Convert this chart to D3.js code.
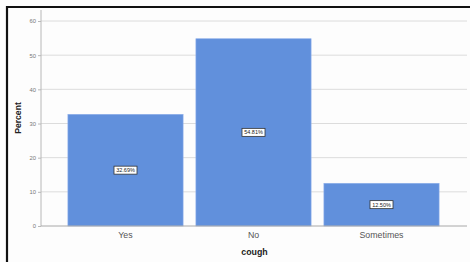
<!DOCTYPE html>
<html>
<head>
<meta charset="utf-8">
<script src="https://cdn.jsdelivr.net/npm/d3@7"></script>
<style>
  body { margin: 0; background: #ffffff; }
  svg { display: block; font-family: Arial, "Liberation Sans", sans-serif; }
</style>
</head>
<body>
<div id="chart"></div>
<script>
const width = 470;
const height = 262;

// dados
const categories = ["Yes", "No", "Sometimes"];
const percents = [32.69, 54.81, 12.5];
const yTicks = [0, 10, 20, 30, 40, 50, 60];

const svg = d3.select("#chart").append("svg")
  .attr("width", width)
  .attr("height", height);

svg.append("rect").attr("width", width).attr("height", height).attr("fill", "#fdfdfd");

// moldura (topo e esquerda)
svg.append("line").attr("x1", 6).attr("x2", width).attr("y1", 7).attr("y2", 7)
  .attr("stroke", "#111").attr("stroke-width", 2.2);
svg.append("line").attr("x1", 7).attr("x2", 7).attr("y1", 6).attr("y2", height)
  .attr("stroke", "#111").attr("stroke-width", 2.2);

const plotLeft = 41, plotRight = 467;

const y = d3.scaleLinear().domain([0, 60]).range([226, 21]);
const x = d3.scaleBand().domain(categories)
  .range([61.5, 445.5]).paddingInner(0.1).paddingOuter(0.05);

// grade
svg.append("g").selectAll("line").data(yTicks.filter(d => d > 0)).enter().append("line")
  .attr("x1", plotLeft).attr("x2", plotRight)
  .attr("y1", d => y(d)).attr("y2", d => y(d))
  .attr("stroke", "#dcdcdc").attr("stroke-width", 1);

// eixo y
const yAxis = svg.append("g")
  .attr("transform", `translate(${plotLeft},0)`)
  .call(d3.axisLeft(y).tickValues(yTicks).tickSize(3).tickPadding(2));
yAxis.select(".domain").attr("stroke", "#b8b8b8").attr("d", `M0,10V${y(0)}`);
yAxis.selectAll(".tick line").attr("stroke", "#b8b8b8");
yAxis.selectAll("text").attr("fill", "#777").style("font-size", "5.8px");

// barras
svg.append("g").selectAll("rect").data(percents).enter().append("rect")
  .attr("x", (d, i) => x(categories[i]))
  .attr("y", d => y(d))
  .attr("width", x.bandwidth())
  .attr("height", d => y(0) - y(d))
  .attr("fill", "#6190dc")
  .attr("stroke", "#8fb0ea").attr("stroke-width", 0.6);

// eixo x
svg.append("line").attr("x1", plotLeft).attr("x2", plotRight)
  .attr("y1", y(0)).attr("y2", y(0)).attr("stroke", "#a8a8a8").attr("stroke-width", 1);

svg.append("g").selectAll("text").data(categories).enter().append("text")
  .attr("x", d => x(d) + x.bandwidth() / 2)
  .attr("y", 238)
  .attr("text-anchor", "middle")
  .attr("fill", "#555")
  .style("font-size", "8.8px")
  .text(d => d);

// rótulos das barras
const labels = svg.append("g").selectAll("g").data(percents).enter().append("g")
  .attr("transform", (d, i) => `translate(${x(categories[i]) + x.bandwidth() / 2},${(y(d) + y(0)) / 2})`);
labels.append("rect")
  .attr("x", -11.5).attr("y", -4).attr("width", 23).attr("height", 8)
  .attr("fill", "#fff").attr("stroke", "#333").attr("stroke-width", 0.8);
labels.append("text")
  .attr("text-anchor", "middle").attr("dy", "0.35em")
  .attr("fill", "#222").style("font-size", "5.5px")
  .text(d => d.toFixed(2) + "%");

// títulos dos eixos
svg.append("text")
  .attr("transform", "translate(21,118) rotate(-90)")
  .attr("text-anchor", "middle")
  .attr("fill", "#222")
  .style("font-size", "8.6px").style("font-weight", "bold")
  .text("Percent");

svg.append("text")
  .attr("x", (plotLeft + plotRight) / 2 + 0.5).attr("y", 255)
  .attr("text-anchor", "middle")
  .attr("fill", "#222")
  .style("font-size", "8.8px").style("font-weight", "bold")
  .text("cough");
</script>
</body>
</html>
